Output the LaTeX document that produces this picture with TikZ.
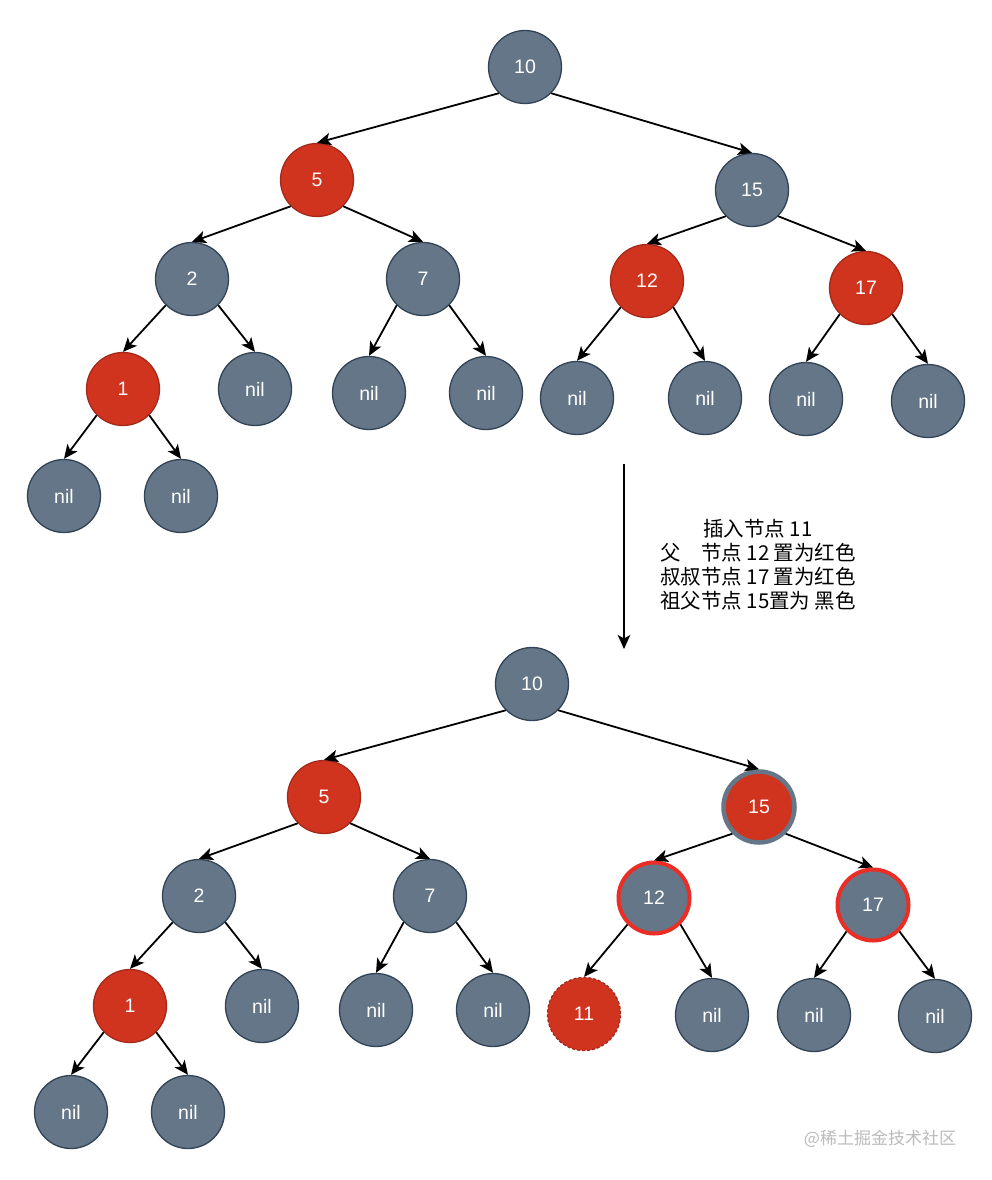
\documentclass[tikz,border=0pt]{standalone}
\usepackage{fontspec}
\setmainfont{Liberation Sans}
\newfontfamily\cjk{Noto Sans CJK SC}
\usetikzlibrary{arrows.meta}
\definecolor{nodegray}{HTML}{647687}
\definecolor{graystroke}{HTML}{314354}
\definecolor{nodered}{HTML}{D0341F}
\definecolor{redstroke}{HTML}{A5281A}
\definecolor{hired}{HTML}{EA2E25}
\definecolor{wm}{HTML}{BBBBBB}
\tikzset{
  tn/.style={circle, minimum size=73pt, inner sep=0pt, text=white, font=\fontsize{19.5pt}{22pt}\selectfont, line width=1.3pt},
  bk/.style={tn, fill=nodegray, draw=graystroke},
  rd/.style={tn, fill=nodered, draw=redstroke},
  bkhi/.style={tn, fill=nodegray, draw=hired, line width=4pt, minimum size=71pt},
  rdhi/.style={tn, fill=nodered, draw=nodegray, line width=4.5pt, minimum size=71pt},
  rddash/.style={tn, fill=nodered, draw=redstroke, dashed, dash pattern=on 3pt off 2pt},
  edge/.style={-{Stealth[length=14pt,width=12.5pt,inset=3.5pt]}, line width=1.8pt, black},
}
\begin{document}
\begin{tikzpicture}[x=1pt,y=-1pt]
\path[use as bounding box, fill=white] (0,0) rectangle (992,1180);
% ---------- top tree ----------
\node[bk] (a10) at (525,67) {10};
\node[rd] (a5) at (317,180) {5};
\node[bk] (a15) at (752,190) {15};
\node[bk] (a2) at (192,279) {2};
\node[bk] (a7) at (423,279) {7};
\node[rd] (a12) at (647,281) {12};
\node[rd] (a17) at (866,288) {17};
\node[rd] (a1) at (123,389) {1};
\node[bk] (a2r) at (255,389) {nil};
\node[bk] (a7l) at (369,393) {nil};
\node[bk] (a7r) at (486,393) {nil};
\node[bk] (a12l) at (577,398) {nil};
\node[bk] (a12r) at (705,398) {nil};
\node[bk] (a17l) at (806,399) {nil};
\node[bk] (a17r) at (928,401) {nil};
\node[bk] (a1l) at (64,496) {nil};
\node[bk] (a1r) at (181,496) {nil};
\foreach \p/\c in {a10/a5,a5/a2,a15/a12,a2/a1,a7/a7l,a12/a12l,a17/a17l,a1/a1l}
  \draw[edge] (\p.south west) -- (\c.north);
\foreach \p/\c in {a10/a15,a5/a7,a15/a17,a2/a2r,a7/a7r,a12/a12r,a17/a17r,a1/a1r}
  \draw[edge] (\p.south east) -- (\c.north);
% ---------- transition ----------
\coordinate (arS) at (624,464);
\coordinate (arE) at (624,649);
\draw[edge] (arS) -- (arE);
\node[align=center, font=\cjk\fontsize{20.5pt}{24pt}\selectfont, inner sep=0pt] (txt) at (758,565)
 {插入节点 11\\父\hspace{1em}节点 12 置为红色\\叔叔节点 17 置为红色\\祖父节点 15置为 黑色};
% ---------- bottom tree ----------
\begin{scope}[shift={(7,617)}]
\node[bk] (b10) at (525,67) {10};
\node[rd] (b5) at (317,180) {5};
\node[rdhi] (b15) at (752,190) {15};
\node[bk] (b2) at (192,279) {2};
\node[bk] (b7) at (423,279) {7};
\node[bkhi] (b12) at (647,281) {12};
\node[bkhi] (b17) at (866,288) {17};
\node[rd] (b1) at (123,389) {1};
\node[bk] (b2r) at (255,389) {nil};
\node[bk] (b7l) at (369,393) {nil};
\node[bk] (b7r) at (486,393) {nil};
\node[rddash] (b12l) at (577,397) {11};
\node[bk] (b12r) at (705,398) {nil};
\node[bk] (b17l) at (807,398) {nil};
\node[bk] (b17r) at (928,399) {nil};
\node[bk] (b1l) at (64,495) {nil};
\node[bk] (b1r) at (181,495) {nil};
\end{scope}
\foreach \p/\c in {b10/b5,b5/b2,b15/b12,b2/b1,b7/b7l,b12/b12l,b17/b17l,b1/b1l}
  \draw[edge] (\p.south west) -- (\c.north);
\foreach \p/\c in {b10/b15,b5/b7,b15/b17,b2/b2r,b7/b7r,b12/b12r,b17/b17r,b1/b1r}
  \draw[edge] (\p.south east) -- (\c.north);
% ---------- watermark ----------
\node[font=\cjk\fontsize{17pt}{20pt}\selectfont, text=wm, inner sep=0pt] (wmk) at (880,1139) {@稀土掘金技术社区};
\end{tikzpicture}
\end{document}
